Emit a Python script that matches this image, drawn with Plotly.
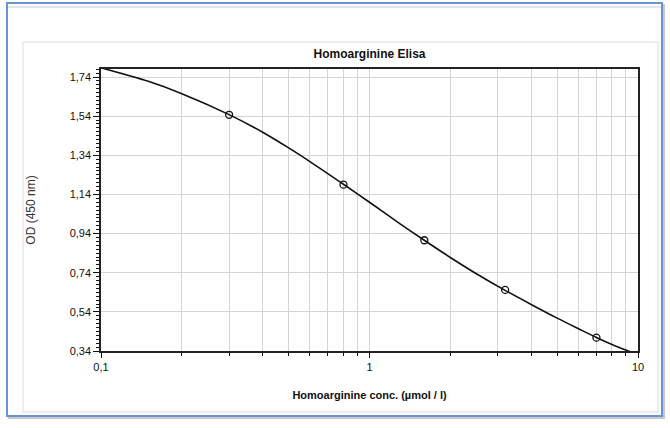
import plotly.graph_objects as go

# standard points (conc. in µmol/l, OD 450 nm)
std_conc = [0.3, 0.8, 1.6, 3.2, 7.0]
std_od = [1.547, 1.190, 0.906, 0.652, 0.408]

# fitted curve
curve_conc = [0.1, 0.15, 0.2, 0.3, 0.4, 0.5, 0.6, 0.8, 1.0, 1.3, 1.6,
              2.0, 2.5, 3.2, 4.0, 5.0, 6.0, 7.0, 8.0, 9.0, 10.0]
curve_od = [1.787, 1.718, 1.655, 1.548, 1.458, 1.378, 1.308, 1.192, 1.100,
            0.990, 0.906, 0.818, 0.735, 0.650, 0.578, 0.508, 0.454, 0.409,
            0.373, 0.345, 0.322]

x_tick_vals = [0.1, 1, 10]
x_tick_labels = ["0,1", "1", "10"]
y_tick_vals = [0.34, 0.54, 0.74, 0.94, 1.14, 1.34, 1.54, 1.74]

FONT = "Liberation Sans, Arial, sans-serif"

W, H = 670, 428
# plot area in px
L, R, T, B = 101, 638, 69, 351

def px(x):
    return (x - L) / (R - L)

def py(y):
    return (B - y) / (B - T)

fig = go.Figure()

fig.add_trace(go.Scatter(
    x=curve_conc, y=curve_od, mode="lines",
    line=dict(color="#111111", width=1.6, shape="spline", smoothing=0.8),
    showlegend=False, hoverinfo="skip",
))
fig.add_trace(go.Scatter(
    x=std_conc, y=std_od, mode="markers",
    marker=dict(symbol="circle-open", size=7, color="#111111", line=dict(width=1.3)),
    showlegend=False,
))

fig.update_layout(
    width=W, height=H,
    margin=dict(l=L, r=W - R, t=T, b=H - B),
    paper_bgcolor="white", plot_bgcolor="white",
    separators=",.",
    font=dict(family=FONT, color="#111111"),
    title=dict(text="<b>Homoarginine Elisa</b>", x=0.5, xref="paper",
               y=1 - 54 / H, yref="container", yanchor="middle",
               font=dict(size=12, family=FONT, color="#111111")),
    shapes=[
        # outer blue frame with a faint shadow
        dict(type="rect", xref="paper", yref="paper",
             x0=px(9), x1=px(664), y0=py(418), y1=py(5),
             line=dict(color="#c8c8c8", width=2), layer="below"),
        dict(type="rect", xref="paper", yref="paper",
             x0=px(7), x1=px(662), y0=py(416), y1=py(3),
             line=dict(color="#6a93d3", width=2), fillcolor="white", layer="below"),
        # thin grey band just under the top of the frame
        dict(type="line", xref="paper", yref="paper",
             x0=px(8), x1=px(661), y0=py(7), y1=py(7),
             line=dict(color="#e6e6e6", width=2), layer="below"),
        # inner chart panel
        dict(type="rect", xref="paper", yref="paper",
             x0=px(23), x1=px(658), y0=py(412), y1=py(42),
             line=dict(color="#dcdcdc", width=1), layer="below"),
    ],
)

fig.update_xaxes(
    type="log", range=[-1, 1], automargin=False,
    tickvals=x_tick_vals, ticktext=x_tick_labels,
    tickfont=dict(size=11, family=FONT, color="#111111"),
    ticks="outside", ticklen=5, tickcolor="#111111", tickwidth=1.3,
    showline=True, linecolor="#222222", linewidth=1.5, mirror=True,
    showgrid=True, gridcolor="#d4d4d4", gridwidth=1.4,
    minor=dict(dtick="D1", ticks="outside", ticklen=3, tickcolor="#111111",
               showgrid=True, gridcolor="#d4d4d4", gridwidth=1.4),
    zeroline=False,
    title=dict(text="<b>Homoarginine conc. (µmol / l)</b>", standoff=19,
               font=dict(size=11, family=FONT, color="#111111")),
)

fig.update_yaxes(
    range=[0.34, 1.781], automargin=False,
    tickvals=y_tick_vals, tickformat=".2f",
    tickfont=dict(size=11, family=FONT, color="#111111"),
    ticks="outside", ticklen=6, tickcolor="#111111", tickwidth=1.3,
    showline=True, linecolor="#222222", linewidth=1.5, mirror=True,
    showgrid=True, gridcolor="#d4d4d4", gridwidth=1.4,
    minor=dict(tick0=0.34, dtick=0.02, ticks="outside", ticklen=3,
               tickcolor="#111111", showgrid=False),
    zeroline=False,
    title=dict(text="OD (450 nm)", standoff=31,
               font=dict(size=12, family=FONT, color="#333333")),
)

# drop the browser's default 8px body margin so the figure sits at the corner
fig.write_html("out.html", config={"displayModeBar": False},
               post_script="document.body.style.margin = '0';")
